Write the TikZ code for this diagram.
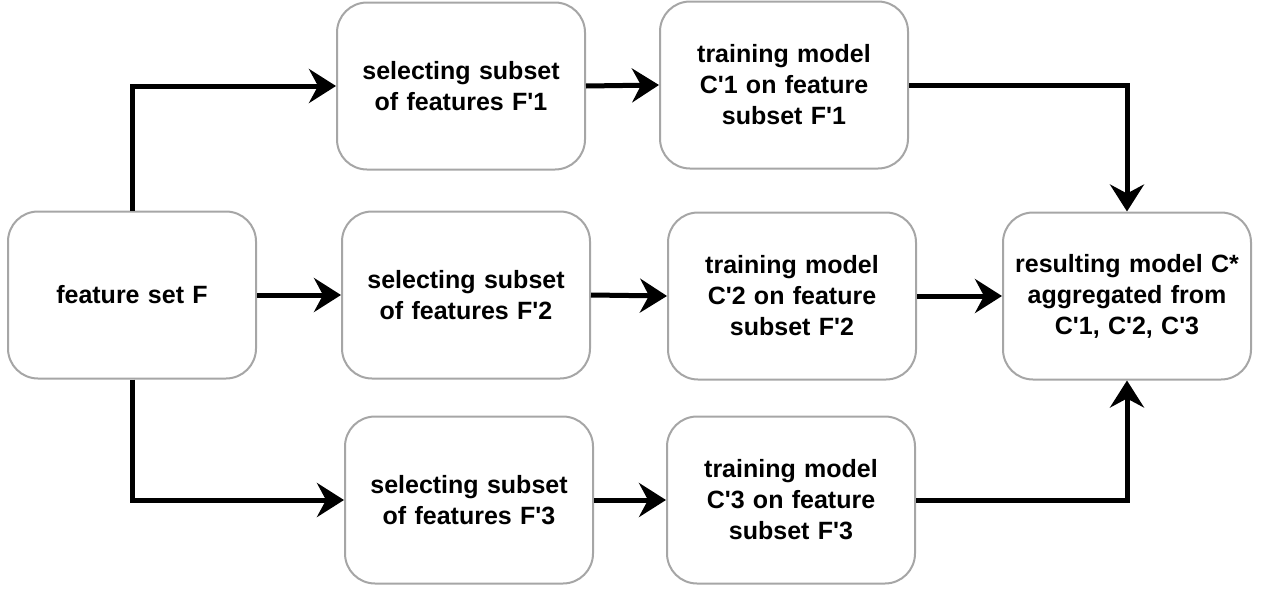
\documentclass[tikz,border=0pt]{standalone}
\usepackage{fontspec}
\setmainfont{Liberation Sans}[Ligatures=TeXOff]
\usetikzlibrary{arrows.meta, positioning}

\tikzset{
  stagebox/.style={draw=gray!70, line width=2pt, rounded corners=30pt, fill=white,
    minimum width=248pt, minimum height=167pt, text width=236pt, inner sep=0pt,
    align=center, font=\fontsize{25}{31}\selectfont\bfseries},
  flow/.style={line width=5pt, -{Stealth[length=27pt, width=34pt, inset=9pt]}}
}

\begin{document}
\begin{tikzpicture}[x=1pt, y=-1pt]

  \useasboundingbox (0,0) rectangle (1280,592);

  % input features
  \node[stagebox] (feat) at (132, 295) {feature set F};

  % subset selection
  \node[stagebox] (sel1) at (461, 86) {selecting subset\\of features F'1};
  \node[stagebox] (sel2) at (466, 295) {selecting subset\\of features F'2};
  \node[stagebox] (sel3) at (469, 500) {selecting subset\\of features F'3};

  % training
  \node[stagebox] (train1) at (784, 85) {training model\\C'1 on feature\\subset F'1};
  \node[stagebox] (train2) at (792, 296) {training model\\C'2 on feature\\subset F'2};
  \node[stagebox] (train3) at (791, 500) {training model\\C'3 on feature\\subset F'3};

  % aggregation
  \node[stagebox] (result) at (1127, 296) {resulting model C*\\aggregated from\\C'1, C'2, C'3};

  \draw[flow] (feat.north) |- (sel1.west);
  \draw[flow] (feat.east) -- (sel2.west);
  \draw[flow] (feat.south) |- (sel3.west);

  \foreach \i in {1, 2, 3} {
    \draw[flow] (sel\i.east) -- (train\i.west);
  }

  \draw[flow] (train1.east) -| (result.north);
  \draw[flow] (train2.east) -- (result.west);
  \draw[flow] (train3.east) -| (result.south);

\end{tikzpicture}
\end{document}
